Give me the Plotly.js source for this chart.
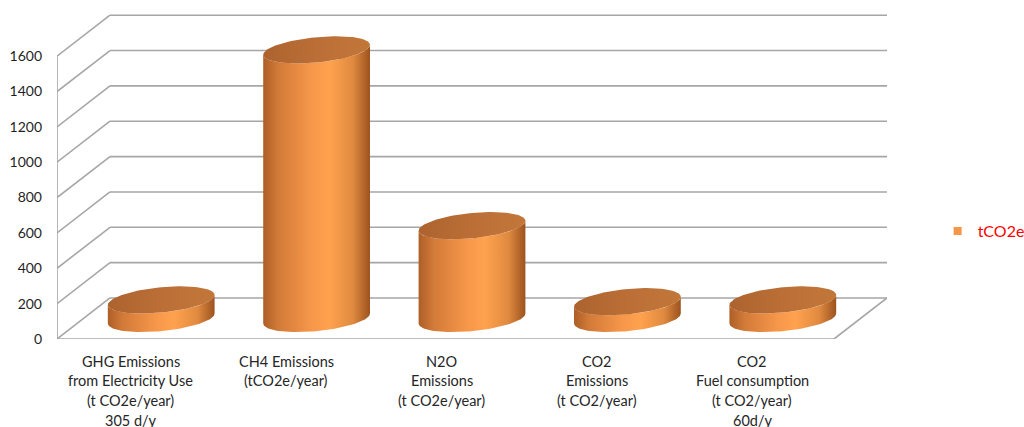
<!DOCTYPE html>
<html>
<head>
<meta charset="utf-8">
<script src="https://cdn.plot.ly/plotly-3.0.1.min.js"></script>
<style>
  html, body { margin: 0; padding: 0; background: #ffffff; }
  #chart { width: 1024px; height: 427px; }
</style>
</head>
<body>
<div id="chart"></div>
<script>
// ---- data ----
const categories = [
  'GHG Emissions<br>from Electricity Use<br>(t CO2e/year)<br>305 d/y',
  'CH4 Emissions<br>(tCO2e/year)',
  'N2O<br>Emissions<br>(t CO2e/year)',
  'CO2<br>Emissions<br>(t CO2/year)',
  'CO2<br>Fuel consumption<br>(t CO2/year)<br>60d/y'
];
const values = [105, 1520, 525, 95, 105];
const seriesName = 'tCO2e';
const tickValues = [0, 200, 400, 600, 800, 1000, 1200, 1400, 1600];
const tickLabels = ['0', '200', '400', '600', '800', '1000', '1200', '1400', '1600'];

// ---- 3D box geometry (in axis units) ----
const DEPTH_X = 0.341;   // horizontal shift from front to back wall (categories)
const DEPTH_Y = 232;     // vertical shift from front to back wall (value units)
const RAD_X = 0.32;      // cylinder radius across
const SHEAR_X = 0.125;   // horizontal lean of the depth axis inside a cap
const RAD_Y = 77;        // cap half-height (value units)
const Y_TOP = 1850;

const bodyScale = [
  [0, '#ad5f28'], [0.14, '#d27a38'], [0.45, '#f6974a'],
  [0.62, '#ffa24e'], [0.84, '#e08a40'], [1, '#9c531f']
];
const capScale = [[0, '#ad632e'], [0.5, '#bb6f37'], [1, '#c27739']];

function arc(cx, cy, t0, t1, n) {
  const xs = [], ys = [];
  for (let k = 0; k <= n; k++) {
    const t = t0 + (t1 - t0) * k / n;
    xs.push(cx + RAD_X * Math.cos(t) + SHEAR_X * Math.sin(t));
    ys.push(cy + RAD_Y * Math.sin(t));
  }
  return { xs, ys };
}

const traces = [];

// series trace: one marker per value, sitting under each cylinder cap; it feeds the legend
traces.push({
  type: 'scatter', mode: 'markers', name: seriesName,
  x: values.map((v, i) => i + DEPTH_X / 2),
  y: values.map(v => v + DEPTH_Y / 2),
  marker: { symbol: 'square', size: 8, color: '#f79646' },
  hoverinfo: 'skip', showlegend: true
});

const tR = Math.atan2(SHEAR_X, RAD_X);
const tL = tR + Math.PI;

values.forEach((v, i) => {
  const cx = i + DEPTH_X / 2;
  const yBase = DEPTH_Y / 2;
  const yTop = v + DEPTH_Y / 2;
  // body: front half of the base ellipse, then front half of the top ellipse back again
  const bottom = arc(cx, yBase, tL, tR + 2 * Math.PI, 60);
  const top = arc(cx, yTop, tR + 2 * Math.PI, tL, 60);
  traces.push({
    type: 'scatter', mode: 'lines', fill: 'toself',
    x: bottom.xs.concat(top.xs), y: bottom.ys.concat(top.ys),
    line: { width: 0, color: 'rgba(0,0,0,0)' },
    fillgradient: { type: 'horizontal', colorscale: bodyScale },
    hoverinfo: 'skip', showlegend: false
  });
  const cap = arc(cx, yTop, 0, 2 * Math.PI, 120);
  traces.push({
    type: 'scatter', mode: 'lines', fill: 'toself',
    x: cap.xs, y: cap.ys,
    line: { width: 0, color: 'rgba(0,0,0,0)' },
    fillgradient: { type: 'horizontal', colorscale: capScale },
    hoverinfo: 'skip', showlegend: false
  });
});

// walls and floor of the box
const gridColor = '#a6a6a6';
const X0 = -0.5, X1 = categories.length - 0.5;
const shapes = [];
function seg(x0, y0, x1, y1) {
  shapes.push({ type: 'line', xref: 'x', yref: 'y', x0, y0, x1, y1, layer: 'below',
    line: { color: gridColor, width: 1.6 } });
}
tickValues.forEach(v => {
  seg(X0, v, X0 + DEPTH_X, v + DEPTH_Y);                     // side wall
  seg(X0 + DEPTH_X, v + DEPTH_Y, X1 + DEPTH_X, v + DEPTH_Y); // back wall
});
seg(X0, 0, X0, tickValues[tickValues.length - 1]);           // front edge of side wall
seg(X0, 0, X1, 0);                                            // floor front
seg(X1, 0, X1 + DEPTH_X, DEPTH_Y);                            // floor right

// category labels, one line each
const annotations = [];
categories.forEach((c, i) => {
  c.split('<br>').forEach((line, k) => {
    annotations.push({
      xref: 'x', yref: 'y', x: i, y: 0, text: line, showarrow: false,
      xanchor: 'center', yanchor: 'middle', xshift: -4, yshift: -(22 + 19.7 * k),
      font: { family: 'Lato, sans-serif', size: 14.5, color: '#262626' }
    });
  });
});

const layout = {
  width: 1024, height: 427,
  margin: { l: 57, r: 137, t: 12, b: 88, autoexpand: false },
  paper_bgcolor: '#ffffff', plot_bgcolor: '#ffffff',
  showlegend: true,
  legend: {
    x: 1.061, y: 0.33, xanchor: 'left', yanchor: 'middle',
    font: { family: 'Lato, sans-serif', size: 16, color: '#ff0000' },
    bgcolor: 'rgba(0,0,0,0)'
  },
  xaxis: {
    range: [X0, X1 + DEPTH_X], visible: false, fixedrange: true
  },
  yaxis: {
    range: [0, Y_TOP], tickmode: 'array', tickvals: tickValues, ticktext: tickLabels,
    showgrid: false, zeroline: false, showline: false, ticks: '',
    ticklabelstandoff: 14,
    tickfont: { family: 'Lato, sans-serif', size: 14, color: '#1f1f1f' },
    fixedrange: true
  },
  shapes, annotations
};

Plotly.newPlot('chart', traces, layout, { displayModeBar: false, staticPlot: true });
</script>
</body>
</html>
